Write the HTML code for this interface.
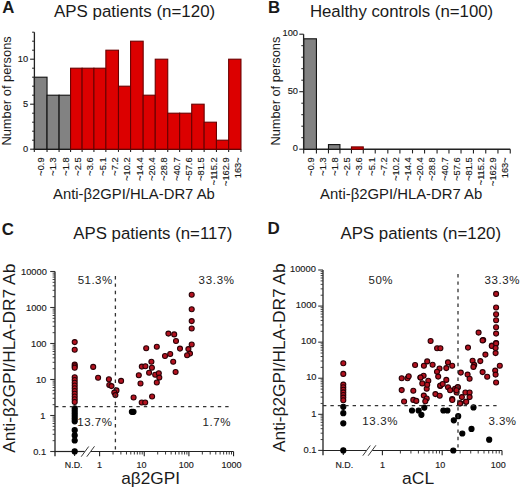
<!DOCTYPE html>
<html><head><meta charset="utf-8"><style>
html,body{margin:0;padding:0;background:#fff;width:520px;height:489px;overflow:hidden}
svg{display:block;font-family:"Liberation Sans",sans-serif}
</style></head><body>
<svg width="520" height="489" viewBox="0 0 520 489">
<rect width="520" height="489" fill="#fff"/>
<text x="2.2" y="13.4" font-size="16.8" text-anchor="start" font-weight="bold" fill="#1a1a1a" id="lA">A</text>
<text x="54" y="17.1" font-size="16.7" text-anchor="start" font-weight="normal" fill="#1a1a1a" textLength="161.2" lengthAdjust="spacingAndGlyphs" id="tA">APS patients (n=120)</text>
<line x1="33.71" y1="149.20" x2="240.96" y2="149.20" stroke="#222" stroke-width="1.4"/>
<line x1="34.31" y1="149.20" x2="34.31" y2="151.90" stroke="#222" stroke-width="1.1"/>
<line x1="47.04" y1="149.20" x2="47.04" y2="151.90" stroke="#222" stroke-width="1.1"/>
<line x1="59.09" y1="149.20" x2="59.09" y2="151.90" stroke="#222" stroke-width="1.1"/>
<line x1="70.57" y1="149.20" x2="70.57" y2="151.90" stroke="#222" stroke-width="1.1"/>
<line x1="82.11" y1="149.20" x2="82.11" y2="151.90" stroke="#222" stroke-width="1.1"/>
<line x1="93.92" y1="149.20" x2="93.92" y2="151.90" stroke="#222" stroke-width="1.1"/>
<line x1="105.87" y1="149.20" x2="105.87" y2="151.90" stroke="#222" stroke-width="1.1"/>
<line x1="118.48" y1="149.20" x2="118.48" y2="151.90" stroke="#222" stroke-width="1.1"/>
<line x1="130.58" y1="149.20" x2="130.58" y2="151.90" stroke="#222" stroke-width="1.1"/>
<line x1="143.18" y1="149.20" x2="143.18" y2="151.90" stroke="#222" stroke-width="1.1"/>
<line x1="155.23" y1="149.20" x2="155.23" y2="151.90" stroke="#222" stroke-width="1.1"/>
<line x1="167.74" y1="149.20" x2="167.74" y2="151.90" stroke="#222" stroke-width="1.1"/>
<line x1="179.64" y1="149.20" x2="179.64" y2="151.90" stroke="#222" stroke-width="1.1"/>
<line x1="191.72" y1="149.20" x2="191.72" y2="151.90" stroke="#222" stroke-width="1.1"/>
<line x1="204.14" y1="149.20" x2="204.14" y2="151.90" stroke="#222" stroke-width="1.1"/>
<line x1="216.45" y1="149.20" x2="216.45" y2="151.90" stroke="#222" stroke-width="1.1"/>
<line x1="228.65" y1="149.20" x2="228.65" y2="151.90" stroke="#222" stroke-width="1.1"/>
<line x1="240.96" y1="149.20" x2="240.96" y2="151.90" stroke="#222" stroke-width="1.1"/>
<rect x="34.31" y="77.20" width="12.73" height="72.00" fill="#828282" stroke="#111111" stroke-width="1.1"/>
<rect x="47.04" y="95.20" width="12.06" height="54.00" fill="#828282" stroke="#111111" stroke-width="1.1"/>
<rect x="59.09" y="95.20" width="11.48" height="54.00" fill="#828282" stroke="#111111" stroke-width="1.1"/>
<rect x="70.57" y="68.20" width="11.54" height="81.00" fill="#dc0000" stroke="#6a0000" stroke-width="1.1"/>
<rect x="82.11" y="68.20" width="11.81" height="81.00" fill="#dc0000" stroke="#6a0000" stroke-width="1.1"/>
<rect x="93.92" y="68.20" width="11.96" height="81.00" fill="#dc0000" stroke="#6a0000" stroke-width="1.1"/>
<rect x="105.87" y="50.20" width="12.61" height="99.00" fill="#dc0000" stroke="#6a0000" stroke-width="1.1"/>
<rect x="118.48" y="86.20" width="12.10" height="63.00" fill="#dc0000" stroke="#6a0000" stroke-width="1.1"/>
<rect x="130.58" y="41.20" width="12.60" height="108.00" fill="#dc0000" stroke="#6a0000" stroke-width="1.1"/>
<rect x="143.18" y="95.20" width="12.06" height="54.00" fill="#dc0000" stroke="#6a0000" stroke-width="1.1"/>
<rect x="155.23" y="59.20" width="12.51" height="90.00" fill="#dc0000" stroke="#6a0000" stroke-width="1.1"/>
<rect x="167.74" y="113.20" width="11.90" height="36.00" fill="#dc0000" stroke="#6a0000" stroke-width="1.1"/>
<rect x="179.64" y="113.20" width="12.08" height="36.00" fill="#dc0000" stroke="#6a0000" stroke-width="1.1"/>
<rect x="191.72" y="104.20" width="12.43" height="45.00" fill="#dc0000" stroke="#6a0000" stroke-width="1.1"/>
<rect x="204.14" y="122.20" width="12.31" height="27.00" fill="#dc0000" stroke="#6a0000" stroke-width="1.1"/>
<rect x="216.45" y="140.20" width="12.20" height="9.00" fill="#dc0000" stroke="#6a0000" stroke-width="1.1"/>
<rect x="228.65" y="59.20" width="12.31" height="90.00" fill="#dc0000" stroke="#6a0000" stroke-width="1.1"/>
<line x1="34.40" y1="32.20" x2="34.40" y2="149.90" stroke="#222" stroke-width="1.3"/>
<line x1="30.10" y1="149.20" x2="34.40" y2="149.20" stroke="#222" stroke-width="1.1"/>
<line x1="32.10" y1="140.20" x2="34.40" y2="140.20" stroke="#222" stroke-width="1.0"/>
<line x1="32.10" y1="131.20" x2="34.40" y2="131.20" stroke="#222" stroke-width="1.0"/>
<line x1="32.10" y1="122.20" x2="34.40" y2="122.20" stroke="#222" stroke-width="1.0"/>
<line x1="32.10" y1="113.20" x2="34.40" y2="113.20" stroke="#222" stroke-width="1.0"/>
<line x1="30.10" y1="104.20" x2="34.40" y2="104.20" stroke="#222" stroke-width="1.1"/>
<line x1="32.10" y1="95.20" x2="34.40" y2="95.20" stroke="#222" stroke-width="1.0"/>
<line x1="32.10" y1="86.20" x2="34.40" y2="86.20" stroke="#222" stroke-width="1.0"/>
<line x1="32.10" y1="77.20" x2="34.40" y2="77.20" stroke="#222" stroke-width="1.0"/>
<line x1="32.10" y1="68.20" x2="34.40" y2="68.20" stroke="#222" stroke-width="1.0"/>
<line x1="30.10" y1="59.20" x2="34.40" y2="59.20" stroke="#222" stroke-width="1.1"/>
<line x1="32.10" y1="50.20" x2="34.40" y2="50.20" stroke="#222" stroke-width="1.0"/>
<line x1="32.10" y1="41.20" x2="34.40" y2="41.20" stroke="#222" stroke-width="1.0"/>
<line x1="32.10" y1="32.20" x2="34.40" y2="32.20" stroke="#222" stroke-width="1.0"/>
<text x="28.199999999999996" y="152.2" font-size="9.3" text-anchor="end" font-weight="normal" fill="#1a1a1a" stroke="#1a1a1a" stroke-width="0.15" id="ht34_0">0</text>
<text x="28.199999999999996" y="107.19999999999999" font-size="9.3" text-anchor="end" font-weight="normal" fill="#1a1a1a" stroke="#1a1a1a" stroke-width="0.15" id="ht34_5">5</text>
<text x="28.199999999999996" y="62.19999999999999" font-size="9.3" text-anchor="end" font-weight="normal" fill="#1a1a1a" stroke="#1a1a1a" stroke-width="0.15" id="ht34_10">10</text>
<text x="44.099999999999994" y="157.4" font-size="9.25" text-anchor="end" font-weight="normal" fill="#1a1a1a" stroke="#1a1a1a" stroke-width="0.15" transform="rotate(-90 44.099999999999994 157.4)">~0.9</text>
<text x="56.42999999999999" y="157.4" font-size="9.25" text-anchor="end" font-weight="normal" fill="#1a1a1a" stroke="#1a1a1a" stroke-width="0.15" transform="rotate(-90 56.42999999999999 157.4)">~1.3</text>
<text x="68.75999999999999" y="157.4" font-size="9.25" text-anchor="end" font-weight="normal" fill="#1a1a1a" stroke="#1a1a1a" stroke-width="0.15" transform="rotate(-90 68.75999999999999 157.4)">~1.8</text>
<text x="81.08999999999999" y="157.4" font-size="9.25" text-anchor="end" font-weight="normal" fill="#1a1a1a" stroke="#1a1a1a" stroke-width="0.15" transform="rotate(-90 81.08999999999999 157.4)">~2.5</text>
<text x="93.42" y="157.4" font-size="9.25" text-anchor="end" font-weight="normal" fill="#1a1a1a" stroke="#1a1a1a" stroke-width="0.15" transform="rotate(-90 93.42 157.4)">~3.6</text>
<text x="105.74999999999999" y="157.4" font-size="9.25" text-anchor="end" font-weight="normal" fill="#1a1a1a" stroke="#1a1a1a" stroke-width="0.15" transform="rotate(-90 105.74999999999999 157.4)">~5.1</text>
<text x="118.08" y="157.4" font-size="9.25" text-anchor="end" font-weight="normal" fill="#1a1a1a" stroke="#1a1a1a" stroke-width="0.15" transform="rotate(-90 118.08 157.4)">~7.2</text>
<text x="130.41" y="157.4" font-size="9.25" text-anchor="end" font-weight="normal" fill="#1a1a1a" stroke="#1a1a1a" stroke-width="0.15" transform="rotate(-90 130.41 157.4)">~10.2</text>
<text x="142.74" y="157.4" font-size="9.25" text-anchor="end" font-weight="normal" fill="#1a1a1a" stroke="#1a1a1a" stroke-width="0.15" transform="rotate(-90 142.74 157.4)">~14.4</text>
<text x="155.07" y="157.4" font-size="9.25" text-anchor="end" font-weight="normal" fill="#1a1a1a" stroke="#1a1a1a" stroke-width="0.15" transform="rotate(-90 155.07 157.4)">~20.4</text>
<text x="167.4" y="157.4" font-size="9.25" text-anchor="end" font-weight="normal" fill="#1a1a1a" stroke="#1a1a1a" stroke-width="0.15" transform="rotate(-90 167.4 157.4)">~28.8</text>
<text x="179.73000000000002" y="157.4" font-size="9.25" text-anchor="end" font-weight="normal" fill="#1a1a1a" stroke="#1a1a1a" stroke-width="0.15" transform="rotate(-90 179.73000000000002 157.4)">~40.7</text>
<text x="192.06" y="157.4" font-size="9.25" text-anchor="end" font-weight="normal" fill="#1a1a1a" stroke="#1a1a1a" stroke-width="0.15" transform="rotate(-90 192.06 157.4)">~57.6</text>
<text x="204.39" y="157.4" font-size="9.25" text-anchor="end" font-weight="normal" fill="#1a1a1a" stroke="#1a1a1a" stroke-width="0.15" transform="rotate(-90 204.39 157.4)">~81.5</text>
<text x="216.72000000000003" y="157.4" font-size="9.25" text-anchor="end" font-weight="normal" fill="#1a1a1a" stroke="#1a1a1a" stroke-width="0.15" transform="rotate(-90 216.72000000000003 157.4)">~115.2</text>
<text x="229.05" y="157.4" font-size="9.25" text-anchor="end" font-weight="normal" fill="#1a1a1a" stroke="#1a1a1a" stroke-width="0.15" transform="rotate(-90 229.05 157.4)">~162.9</text>
<text x="241.38" y="157.4" font-size="9.25" text-anchor="end" font-weight="normal" fill="#1a1a1a" stroke="#1a1a1a" stroke-width="0.15" transform="rotate(-90 241.38 157.4)">163~</text>
<text x="10.8" y="145.6" font-size="12.8" text-anchor="start" font-weight="normal" fill="#1a1a1a" textLength="109.4" lengthAdjust="spacingAndGlyphs" transform="rotate(-90 10.8 145.6)" id="yl34">Number of persons</text>
<text x="53" y="198.75" font-size="14.8" text-anchor="start" font-weight="normal" fill="#1a1a1a" textLength="161.8" lengthAdjust="spacingAndGlyphs" id="xl34">Anti-β2GPI/HLA-DR7 Ab</text>
<text x="268.0" y="13.4" font-size="16.8" text-anchor="start" font-weight="bold" fill="#1a1a1a" id="lB">B</text>
<text x="309.9" y="17.1" font-size="16.7" text-anchor="start" font-weight="normal" fill="#1a1a1a" textLength="183.3" lengthAdjust="spacingAndGlyphs" id="tB">Healthy controls (n=100)</text>
<line x1="303.10" y1="149.20" x2="510.25" y2="149.20" stroke="#222" stroke-width="1.4"/>
<line x1="303.70" y1="149.20" x2="303.70" y2="153.40" stroke="#222" stroke-width="1.1"/>
<line x1="316.42" y1="149.20" x2="316.42" y2="153.40" stroke="#222" stroke-width="1.1"/>
<line x1="328.47" y1="149.20" x2="328.47" y2="153.40" stroke="#222" stroke-width="1.1"/>
<line x1="339.94" y1="149.20" x2="339.94" y2="153.40" stroke="#222" stroke-width="1.1"/>
<line x1="351.47" y1="149.20" x2="351.47" y2="153.40" stroke="#222" stroke-width="1.1"/>
<line x1="363.28" y1="149.20" x2="363.28" y2="153.40" stroke="#222" stroke-width="1.1"/>
<line x1="375.23" y1="149.20" x2="375.23" y2="153.40" stroke="#222" stroke-width="1.1"/>
<line x1="387.83" y1="149.20" x2="387.83" y2="153.40" stroke="#222" stroke-width="1.1"/>
<line x1="399.92" y1="149.20" x2="399.92" y2="153.40" stroke="#222" stroke-width="1.1"/>
<line x1="412.51" y1="149.20" x2="412.51" y2="153.40" stroke="#222" stroke-width="1.1"/>
<line x1="424.57" y1="149.20" x2="424.57" y2="153.40" stroke="#222" stroke-width="1.1"/>
<line x1="437.07" y1="149.20" x2="437.07" y2="153.40" stroke="#222" stroke-width="1.1"/>
<line x1="448.96" y1="149.20" x2="448.96" y2="153.40" stroke="#222" stroke-width="1.1"/>
<line x1="461.03" y1="149.20" x2="461.03" y2="153.40" stroke="#222" stroke-width="1.1"/>
<line x1="473.45" y1="149.20" x2="473.45" y2="153.40" stroke="#222" stroke-width="1.1"/>
<line x1="485.76" y1="149.20" x2="485.76" y2="153.40" stroke="#222" stroke-width="1.1"/>
<line x1="497.95" y1="149.20" x2="497.95" y2="153.40" stroke="#222" stroke-width="1.1"/>
<line x1="510.25" y1="149.20" x2="510.25" y2="153.40" stroke="#222" stroke-width="1.1"/>
<rect x="303.70" y="38.80" width="12.72" height="110.40" fill="#828282" stroke="#111111" stroke-width="1.1"/>
<rect x="328.47" y="144.60" width="11.47" height="4.60" fill="#828282" stroke="#111111" stroke-width="1.1"/>
<rect x="351.47" y="146.90" width="11.80" height="2.30" fill="#dc0000" stroke="#6a0000" stroke-width="1.1"/>
<line x1="303.60" y1="34.20" x2="303.60" y2="149.90" stroke="#222" stroke-width="1.3"/>
<line x1="299.30" y1="149.20" x2="303.60" y2="149.20" stroke="#222" stroke-width="1.1"/>
<line x1="301.30" y1="137.70" x2="303.60" y2="137.70" stroke="#222" stroke-width="1.0"/>
<line x1="301.30" y1="126.20" x2="303.60" y2="126.20" stroke="#222" stroke-width="1.0"/>
<line x1="301.30" y1="114.70" x2="303.60" y2="114.70" stroke="#222" stroke-width="1.0"/>
<line x1="301.30" y1="103.20" x2="303.60" y2="103.20" stroke="#222" stroke-width="1.0"/>
<line x1="299.30" y1="91.70" x2="303.60" y2="91.70" stroke="#222" stroke-width="1.1"/>
<line x1="301.30" y1="80.20" x2="303.60" y2="80.20" stroke="#222" stroke-width="1.0"/>
<line x1="301.30" y1="68.70" x2="303.60" y2="68.70" stroke="#222" stroke-width="1.0"/>
<line x1="301.30" y1="57.20" x2="303.60" y2="57.20" stroke="#222" stroke-width="1.0"/>
<line x1="301.30" y1="45.70" x2="303.60" y2="45.70" stroke="#222" stroke-width="1.0"/>
<line x1="299.30" y1="34.20" x2="303.60" y2="34.20" stroke="#222" stroke-width="1.1"/>
<text x="298.0" y="151.39999999999998" font-size="9.3" text-anchor="end" font-weight="normal" fill="#1a1a1a" stroke="#1a1a1a" stroke-width="0.15" id="ht303_0">0</text>
<text x="298.0" y="93.89999999999999" font-size="9.3" text-anchor="end" font-weight="normal" fill="#1a1a1a" stroke="#1a1a1a" stroke-width="0.15" id="ht303_50">50</text>
<text x="298.0" y="36.400000000000006" font-size="9.3" text-anchor="end" font-weight="normal" fill="#1a1a1a" stroke="#1a1a1a" stroke-width="0.15" id="ht303_100">100</text>
<text x="313.90000000000003" y="157.4" font-size="9.25" text-anchor="end" font-weight="normal" fill="#1a1a1a" stroke="#1a1a1a" stroke-width="0.15" transform="rotate(-90 313.90000000000003 157.4)">~0.9</text>
<text x="326.05" y="157.4" font-size="9.25" text-anchor="end" font-weight="normal" fill="#1a1a1a" stroke="#1a1a1a" stroke-width="0.15" transform="rotate(-90 326.05 157.4)">~1.3</text>
<text x="338.20000000000005" y="157.4" font-size="9.25" text-anchor="end" font-weight="normal" fill="#1a1a1a" stroke="#1a1a1a" stroke-width="0.15" transform="rotate(-90 338.20000000000005 157.4)">~1.8</text>
<text x="350.35" y="157.4" font-size="9.25" text-anchor="end" font-weight="normal" fill="#1a1a1a" stroke="#1a1a1a" stroke-width="0.15" transform="rotate(-90 350.35 157.4)">~2.5</text>
<text x="362.50000000000006" y="157.4" font-size="9.25" text-anchor="end" font-weight="normal" fill="#1a1a1a" stroke="#1a1a1a" stroke-width="0.15" transform="rotate(-90 362.50000000000006 157.4)">~3.6</text>
<text x="374.65000000000003" y="157.4" font-size="9.25" text-anchor="end" font-weight="normal" fill="#1a1a1a" stroke="#1a1a1a" stroke-width="0.15" transform="rotate(-90 374.65000000000003 157.4)">~5.1</text>
<text x="386.8" y="157.4" font-size="9.25" text-anchor="end" font-weight="normal" fill="#1a1a1a" stroke="#1a1a1a" stroke-width="0.15" transform="rotate(-90 386.8 157.4)">~7.2</text>
<text x="398.95000000000005" y="157.4" font-size="9.25" text-anchor="end" font-weight="normal" fill="#1a1a1a" stroke="#1a1a1a" stroke-width="0.15" transform="rotate(-90 398.95000000000005 157.4)">~10.2</text>
<text x="411.1" y="157.4" font-size="9.25" text-anchor="end" font-weight="normal" fill="#1a1a1a" stroke="#1a1a1a" stroke-width="0.15" transform="rotate(-90 411.1 157.4)">~14.4</text>
<text x="423.25000000000006" y="157.4" font-size="9.25" text-anchor="end" font-weight="normal" fill="#1a1a1a" stroke="#1a1a1a" stroke-width="0.15" transform="rotate(-90 423.25000000000006 157.4)">~20.4</text>
<text x="435.40000000000003" y="157.4" font-size="9.25" text-anchor="end" font-weight="normal" fill="#1a1a1a" stroke="#1a1a1a" stroke-width="0.15" transform="rotate(-90 435.40000000000003 157.4)">~28.8</text>
<text x="447.55" y="157.4" font-size="9.25" text-anchor="end" font-weight="normal" fill="#1a1a1a" stroke="#1a1a1a" stroke-width="0.15" transform="rotate(-90 447.55 157.4)">~40.7</text>
<text x="459.70000000000005" y="157.4" font-size="9.25" text-anchor="end" font-weight="normal" fill="#1a1a1a" stroke="#1a1a1a" stroke-width="0.15" transform="rotate(-90 459.70000000000005 157.4)">~57.6</text>
<text x="471.8500000000001" y="157.4" font-size="9.25" text-anchor="end" font-weight="normal" fill="#1a1a1a" stroke="#1a1a1a" stroke-width="0.15" transform="rotate(-90 471.8500000000001 157.4)">~81.5</text>
<text x="484.00000000000006" y="157.4" font-size="9.25" text-anchor="end" font-weight="normal" fill="#1a1a1a" stroke="#1a1a1a" stroke-width="0.15" transform="rotate(-90 484.00000000000006 157.4)">~115.2</text>
<text x="496.15000000000003" y="157.4" font-size="9.25" text-anchor="end" font-weight="normal" fill="#1a1a1a" stroke="#1a1a1a" stroke-width="0.15" transform="rotate(-90 496.15000000000003 157.4)">~162.9</text>
<text x="508.3" y="157.4" font-size="9.25" text-anchor="end" font-weight="normal" fill="#1a1a1a" stroke="#1a1a1a" stroke-width="0.15" transform="rotate(-90 508.3 157.4)">163~</text>
<text x="280.3" y="145.6" font-size="12.8" text-anchor="start" font-weight="normal" fill="#1a1a1a" textLength="108.9" lengthAdjust="spacingAndGlyphs" transform="rotate(-90 280.3 145.6)" id="yl303">Number of persons</text>
<text x="320.1" y="198.75" font-size="14.8" text-anchor="start" font-weight="normal" fill="#1a1a1a" textLength="162.2" lengthAdjust="spacingAndGlyphs" id="xl303">Anti-β2GPI/HLA-DR7 Ab</text>
<text x="1.8" y="234.6" font-size="16.8" text-anchor="start" font-weight="bold" fill="#1a1a1a" id="lC">C</text>
<text x="73.3" y="238.7" font-size="16.7" text-anchor="start" font-weight="normal" fill="#1a1a1a" textLength="159" lengthAdjust="spacingAndGlyphs" id="tC">APS patients (n=117)</text>
<line x1="55.00" y1="271.50" x2="55.00" y2="456.20" stroke="#333" stroke-width="1.4"/>
<line x1="52.60" y1="440.66" x2="55.00" y2="440.66" stroke="#333" stroke-width="0.9"/>
<line x1="52.60" y1="434.32" x2="55.00" y2="434.32" stroke="#333" stroke-width="0.9"/>
<line x1="52.60" y1="429.83" x2="55.00" y2="429.83" stroke="#333" stroke-width="0.9"/>
<line x1="52.60" y1="426.34" x2="55.00" y2="426.34" stroke="#333" stroke-width="0.9"/>
<line x1="52.60" y1="423.49" x2="55.00" y2="423.49" stroke="#333" stroke-width="0.9"/>
<line x1="52.60" y1="421.08" x2="55.00" y2="421.08" stroke="#333" stroke-width="0.9"/>
<line x1="52.60" y1="418.99" x2="55.00" y2="418.99" stroke="#333" stroke-width="0.9"/>
<line x1="52.60" y1="417.15" x2="55.00" y2="417.15" stroke="#333" stroke-width="0.9"/>
<line x1="52.60" y1="404.66" x2="55.00" y2="404.66" stroke="#333" stroke-width="0.9"/>
<line x1="52.60" y1="398.32" x2="55.00" y2="398.32" stroke="#333" stroke-width="0.9"/>
<line x1="52.60" y1="393.83" x2="55.00" y2="393.83" stroke="#333" stroke-width="0.9"/>
<line x1="52.60" y1="390.34" x2="55.00" y2="390.34" stroke="#333" stroke-width="0.9"/>
<line x1="52.60" y1="387.49" x2="55.00" y2="387.49" stroke="#333" stroke-width="0.9"/>
<line x1="52.60" y1="385.08" x2="55.00" y2="385.08" stroke="#333" stroke-width="0.9"/>
<line x1="52.60" y1="382.99" x2="55.00" y2="382.99" stroke="#333" stroke-width="0.9"/>
<line x1="52.60" y1="381.15" x2="55.00" y2="381.15" stroke="#333" stroke-width="0.9"/>
<line x1="52.60" y1="368.66" x2="55.00" y2="368.66" stroke="#333" stroke-width="0.9"/>
<line x1="52.60" y1="362.32" x2="55.00" y2="362.32" stroke="#333" stroke-width="0.9"/>
<line x1="52.60" y1="357.83" x2="55.00" y2="357.83" stroke="#333" stroke-width="0.9"/>
<line x1="52.60" y1="354.34" x2="55.00" y2="354.34" stroke="#333" stroke-width="0.9"/>
<line x1="52.60" y1="351.49" x2="55.00" y2="351.49" stroke="#333" stroke-width="0.9"/>
<line x1="52.60" y1="349.08" x2="55.00" y2="349.08" stroke="#333" stroke-width="0.9"/>
<line x1="52.60" y1="346.99" x2="55.00" y2="346.99" stroke="#333" stroke-width="0.9"/>
<line x1="52.60" y1="345.15" x2="55.00" y2="345.15" stroke="#333" stroke-width="0.9"/>
<line x1="52.60" y1="332.66" x2="55.00" y2="332.66" stroke="#333" stroke-width="0.9"/>
<line x1="52.60" y1="326.32" x2="55.00" y2="326.32" stroke="#333" stroke-width="0.9"/>
<line x1="52.60" y1="321.83" x2="55.00" y2="321.83" stroke="#333" stroke-width="0.9"/>
<line x1="52.60" y1="318.34" x2="55.00" y2="318.34" stroke="#333" stroke-width="0.9"/>
<line x1="52.60" y1="315.49" x2="55.00" y2="315.49" stroke="#333" stroke-width="0.9"/>
<line x1="52.60" y1="313.08" x2="55.00" y2="313.08" stroke="#333" stroke-width="0.9"/>
<line x1="52.60" y1="310.99" x2="55.00" y2="310.99" stroke="#333" stroke-width="0.9"/>
<line x1="52.60" y1="309.15" x2="55.00" y2="309.15" stroke="#333" stroke-width="0.9"/>
<line x1="52.60" y1="296.66" x2="55.00" y2="296.66" stroke="#333" stroke-width="0.9"/>
<line x1="52.60" y1="290.32" x2="55.00" y2="290.32" stroke="#333" stroke-width="0.9"/>
<line x1="52.60" y1="285.83" x2="55.00" y2="285.83" stroke="#333" stroke-width="0.9"/>
<line x1="52.60" y1="282.34" x2="55.00" y2="282.34" stroke="#333" stroke-width="0.9"/>
<line x1="52.60" y1="279.49" x2="55.00" y2="279.49" stroke="#333" stroke-width="0.9"/>
<line x1="52.60" y1="277.08" x2="55.00" y2="277.08" stroke="#333" stroke-width="0.9"/>
<line x1="52.60" y1="274.99" x2="55.00" y2="274.99" stroke="#333" stroke-width="0.9"/>
<line x1="52.60" y1="273.15" x2="55.00" y2="273.15" stroke="#333" stroke-width="0.9"/>
<line x1="50.20" y1="451.50" x2="55.00" y2="451.50" stroke="#333" stroke-width="1.1"/>
<text x="46.1" y="454.7" font-size="9.3" text-anchor="end" font-weight="normal" fill="#1a1a1a" stroke="#1a1a1a" stroke-width="0.15" id="yt55_0">0.1</text>
<line x1="50.20" y1="415.50" x2="55.00" y2="415.50" stroke="#333" stroke-width="1.1"/>
<text x="45.5" y="418.7" font-size="9.3" text-anchor="end" font-weight="normal" fill="#1a1a1a" stroke="#1a1a1a" stroke-width="0.15" id="yt55_1">1</text>
<line x1="50.20" y1="379.50" x2="55.00" y2="379.50" stroke="#333" stroke-width="1.1"/>
<text x="46.300000000000004" y="382.7" font-size="9.3" text-anchor="end" font-weight="normal" fill="#1a1a1a" stroke="#1a1a1a" stroke-width="0.15" id="yt55_2">10</text>
<line x1="50.20" y1="343.50" x2="55.00" y2="343.50" stroke="#333" stroke-width="1.1"/>
<text x="46.5" y="346.7" font-size="9.3" text-anchor="end" font-weight="normal" fill="#1a1a1a" stroke="#1a1a1a" stroke-width="0.15" id="yt55_3">100</text>
<line x1="50.20" y1="307.50" x2="55.00" y2="307.50" stroke="#333" stroke-width="1.1"/>
<text x="46.7" y="310.7" font-size="9.3" text-anchor="end" font-weight="normal" fill="#1a1a1a" stroke="#1a1a1a" stroke-width="0.15" id="yt55_4">1000</text>
<line x1="50.20" y1="271.50" x2="55.00" y2="271.50" stroke="#333" stroke-width="1.1"/>
<text x="46.900000000000006" y="274.7" font-size="9.3" text-anchor="end" font-weight="normal" fill="#1a1a1a" stroke="#1a1a1a" stroke-width="0.15" id="yt55_5">10000</text>
<line x1="54.40" y1="451.50" x2="84.60" y2="451.50" stroke="#222" stroke-width="1.2"/>
<line x1="90.90" y1="451.50" x2="233.55" y2="451.50" stroke="#222" stroke-width="1.2"/>
<line x1="81.20" y1="456.70" x2="88.70" y2="446.50" stroke="#222" stroke-width="0.9"/>
<line x1="86.80" y1="456.70" x2="94.50" y2="446.30" stroke="#222" stroke-width="0.9"/>
<line x1="74.60" y1="451.50" x2="74.60" y2="456.00" stroke="#222" stroke-width="1.1"/>
<text x="73.7" y="467.6" font-size="8.9" text-anchor="middle" font-weight="normal" fill="#1a1a1a" stroke="#1a1a1a" stroke-width="0.15" id="nd55">N.D.</text>
<line x1="99.60" y1="451.50" x2="99.60" y2="456.20" stroke="#222" stroke-width="1.1"/>
<text x="99.6" y="467.8" font-size="9.0" text-anchor="middle" font-weight="normal" fill="#1a1a1a" stroke="#1a1a1a" stroke-width="0.15" id="xt55_0">1</text>
<line x1="113.04" y1="451.50" x2="113.04" y2="454.50" stroke="#222" stroke-width="0.9"/>
<line x1="120.90" y1="451.50" x2="120.90" y2="454.50" stroke="#222" stroke-width="0.9"/>
<line x1="126.48" y1="451.50" x2="126.48" y2="454.50" stroke="#222" stroke-width="0.9"/>
<line x1="130.81" y1="451.50" x2="130.81" y2="454.50" stroke="#222" stroke-width="0.9"/>
<line x1="134.34" y1="451.50" x2="134.34" y2="454.50" stroke="#222" stroke-width="0.9"/>
<line x1="137.33" y1="451.50" x2="137.33" y2="454.50" stroke="#222" stroke-width="0.9"/>
<line x1="139.92" y1="451.50" x2="139.92" y2="454.50" stroke="#222" stroke-width="0.9"/>
<line x1="142.21" y1="451.50" x2="142.21" y2="454.50" stroke="#222" stroke-width="0.9"/>
<line x1="144.25" y1="451.50" x2="144.25" y2="456.20" stroke="#222" stroke-width="1.1"/>
<text x="141.55" y="467.8" font-size="9.0" text-anchor="middle" font-weight="normal" fill="#1a1a1a" stroke="#1a1a1a" stroke-width="0.15" id="xt55_1">10</text>
<line x1="157.69" y1="451.50" x2="157.69" y2="454.50" stroke="#222" stroke-width="0.9"/>
<line x1="165.55" y1="451.50" x2="165.55" y2="454.50" stroke="#222" stroke-width="0.9"/>
<line x1="171.13" y1="451.50" x2="171.13" y2="454.50" stroke="#222" stroke-width="0.9"/>
<line x1="175.46" y1="451.50" x2="175.46" y2="454.50" stroke="#222" stroke-width="0.9"/>
<line x1="178.99" y1="451.50" x2="178.99" y2="454.50" stroke="#222" stroke-width="0.9"/>
<line x1="181.98" y1="451.50" x2="181.98" y2="454.50" stroke="#222" stroke-width="0.9"/>
<line x1="184.57" y1="451.50" x2="184.57" y2="454.50" stroke="#222" stroke-width="0.9"/>
<line x1="186.86" y1="451.50" x2="186.86" y2="454.50" stroke="#222" stroke-width="0.9"/>
<line x1="188.90" y1="451.50" x2="188.90" y2="456.20" stroke="#222" stroke-width="1.1"/>
<text x="186.2" y="467.8" font-size="9.0" text-anchor="middle" font-weight="normal" fill="#1a1a1a" stroke="#1a1a1a" stroke-width="0.15" id="xt55_2">100</text>
<line x1="202.34" y1="451.50" x2="202.34" y2="454.50" stroke="#222" stroke-width="0.9"/>
<line x1="210.20" y1="451.50" x2="210.20" y2="454.50" stroke="#222" stroke-width="0.9"/>
<line x1="215.78" y1="451.50" x2="215.78" y2="454.50" stroke="#222" stroke-width="0.9"/>
<line x1="220.11" y1="451.50" x2="220.11" y2="454.50" stroke="#222" stroke-width="0.9"/>
<line x1="223.64" y1="451.50" x2="223.64" y2="454.50" stroke="#222" stroke-width="0.9"/>
<line x1="226.63" y1="451.50" x2="226.63" y2="454.50" stroke="#222" stroke-width="0.9"/>
<line x1="229.22" y1="451.50" x2="229.22" y2="454.50" stroke="#222" stroke-width="0.9"/>
<line x1="231.51" y1="451.50" x2="231.51" y2="454.50" stroke="#222" stroke-width="0.9"/>
<line x1="233.55" y1="451.50" x2="233.55" y2="456.20" stroke="#222" stroke-width="1.1"/>
<text x="231.54999999999998" y="467.8" font-size="9.0" text-anchor="middle" font-weight="normal" fill="#1a1a1a" stroke="#1a1a1a" stroke-width="0.15" id="xt55_3">1000</text>
<circle cx="74.7" cy="342.1" r="2.5" fill="#b3121f" stroke="#2a0006" stroke-width="1.1"/>
<circle cx="74.7" cy="349.7" r="2.5" fill="#b3121f" stroke="#2a0006" stroke-width="1.1"/>
<circle cx="74.7" cy="364.6" r="2.5" fill="#b3121f" stroke="#2a0006" stroke-width="1.1"/>
<circle cx="74.7" cy="366.2" r="2.5" fill="#b3121f" stroke="#2a0006" stroke-width="1.1"/>
<circle cx="74.7" cy="367.8" r="2.5" fill="#b3121f" stroke="#2a0006" stroke-width="1.1"/>
<circle cx="74.7" cy="377.3" r="2.5" fill="#b3121f" stroke="#2a0006" stroke-width="1.1"/>
<circle cx="74.7" cy="380.05" r="2.5" fill="#b3121f" stroke="#2a0006" stroke-width="1.1"/>
<circle cx="74.7" cy="382.8" r="2.5" fill="#b3121f" stroke="#2a0006" stroke-width="1.1"/>
<circle cx="74.7" cy="385.55" r="2.5" fill="#b3121f" stroke="#2a0006" stroke-width="1.1"/>
<circle cx="74.7" cy="388.3" r="2.5" fill="#b3121f" stroke="#2a0006" stroke-width="1.1"/>
<circle cx="74.7" cy="391.05" r="2.5" fill="#b3121f" stroke="#2a0006" stroke-width="1.1"/>
<circle cx="74.7" cy="393.8" r="2.5" fill="#b3121f" stroke="#2a0006" stroke-width="1.1"/>
<circle cx="74.7" cy="396.55" r="2.5" fill="#b3121f" stroke="#2a0006" stroke-width="1.1"/>
<circle cx="74.7" cy="399.3" r="2.5" fill="#b3121f" stroke="#2a0006" stroke-width="1.1"/>
<circle cx="74.7" cy="402.05" r="2.5" fill="#b3121f" stroke="#2a0006" stroke-width="1.1"/>
<circle cx="93.2" cy="366.9" r="2.5" fill="#b3121f" stroke="#2a0006" stroke-width="1.1"/>
<circle cx="98.1" cy="377.8" r="2.5" fill="#b3121f" stroke="#2a0006" stroke-width="1.1"/>
<circle cx="108.9" cy="379.3" r="2.5" fill="#b3121f" stroke="#2a0006" stroke-width="1.1"/>
<circle cx="109.3" cy="385" r="2.5" fill="#b3121f" stroke="#2a0006" stroke-width="1.1"/>
<circle cx="111.5" cy="386.1" r="2.5" fill="#b3121f" stroke="#2a0006" stroke-width="1.1"/>
<circle cx="121.1" cy="380.9" r="2.5" fill="#b3121f" stroke="#2a0006" stroke-width="1.1"/>
<circle cx="116.5" cy="390.4" r="2.5" fill="#b3121f" stroke="#2a0006" stroke-width="1.1"/>
<circle cx="114.3" cy="392.6" r="2.5" fill="#b3121f" stroke="#2a0006" stroke-width="1.1"/>
<circle cx="115.4" cy="395.1" r="2.5" fill="#b3121f" stroke="#2a0006" stroke-width="1.1"/>
<circle cx="191.7" cy="294.7" r="2.5" fill="#b3121f" stroke="#2a0006" stroke-width="1.1"/>
<circle cx="191.7" cy="309.2" r="2.5" fill="#b3121f" stroke="#2a0006" stroke-width="1.1"/>
<circle cx="191.7" cy="321.1" r="2.5" fill="#b3121f" stroke="#2a0006" stroke-width="1.1"/>
<circle cx="191.7" cy="328.5" r="2.5" fill="#b3121f" stroke="#2a0006" stroke-width="1.1"/>
<circle cx="168.4" cy="333.6" r="2.5" fill="#b3121f" stroke="#2a0006" stroke-width="1.1"/>
<circle cx="174.2" cy="334.4" r="2.5" fill="#b3121f" stroke="#2a0006" stroke-width="1.1"/>
<circle cx="176" cy="341" r="2.5" fill="#b3121f" stroke="#2a0006" stroke-width="1.1"/>
<circle cx="146.2" cy="348.2" r="2.5" fill="#b3121f" stroke="#2a0006" stroke-width="1.1"/>
<circle cx="156.8" cy="346.7" r="2.5" fill="#b3121f" stroke="#2a0006" stroke-width="1.1"/>
<circle cx="191.7" cy="344.5" r="2.5" fill="#b3121f" stroke="#2a0006" stroke-width="1.1"/>
<circle cx="180" cy="348.6" r="2.5" fill="#b3121f" stroke="#2a0006" stroke-width="1.1"/>
<circle cx="188.4" cy="349.1" r="2.5" fill="#b3121f" stroke="#2a0006" stroke-width="1.1"/>
<circle cx="190" cy="353.6" r="2.5" fill="#b3121f" stroke="#2a0006" stroke-width="1.1"/>
<circle cx="187.1" cy="355.2" r="2.5" fill="#b3121f" stroke="#2a0006" stroke-width="1.1"/>
<circle cx="165" cy="356" r="2.5" fill="#b3121f" stroke="#2a0006" stroke-width="1.1"/>
<circle cx="170.2" cy="354" r="2.5" fill="#b3121f" stroke="#2a0006" stroke-width="1.1"/>
<circle cx="151.4" cy="361.7" r="2.5" fill="#b3121f" stroke="#2a0006" stroke-width="1.1"/>
<circle cx="173.2" cy="361.7" r="2.5" fill="#b3121f" stroke="#2a0006" stroke-width="1.1"/>
<circle cx="141.8" cy="366.6" r="2.5" fill="#b3121f" stroke="#2a0006" stroke-width="1.1"/>
<circle cx="145.4" cy="366.3" r="2.5" fill="#b3121f" stroke="#2a0006" stroke-width="1.1"/>
<circle cx="151.9" cy="367.8" r="2.5" fill="#b3121f" stroke="#2a0006" stroke-width="1.1"/>
<circle cx="175.6" cy="372" r="2.5" fill="#b3121f" stroke="#2a0006" stroke-width="1.1"/>
<circle cx="149.1" cy="372.7" r="2.5" fill="#b3121f" stroke="#2a0006" stroke-width="1.1"/>
<circle cx="155.2" cy="374.8" r="2.5" fill="#b3121f" stroke="#2a0006" stroke-width="1.1"/>
<circle cx="158.8" cy="373.2" r="2.5" fill="#b3121f" stroke="#2a0006" stroke-width="1.1"/>
<circle cx="159.3" cy="377.6" r="2.5" fill="#b3121f" stroke="#2a0006" stroke-width="1.1"/>
<circle cx="138.8" cy="375.3" r="2.5" fill="#b3121f" stroke="#2a0006" stroke-width="1.1"/>
<circle cx="140.5" cy="383.5" r="2.5" fill="#b3121f" stroke="#2a0006" stroke-width="1.1"/>
<circle cx="156.8" cy="382.5" r="2.5" fill="#b3121f" stroke="#2a0006" stroke-width="1.1"/>
<circle cx="133.6" cy="397.5" r="2.5" fill="#b3121f" stroke="#2a0006" stroke-width="1.1"/>
<circle cx="152.1" cy="396.5" r="2.5" fill="#b3121f" stroke="#2a0006" stroke-width="1.1"/>
<circle cx="141.7" cy="402.5" r="2.5" fill="#b3121f" stroke="#2a0006" stroke-width="1.1"/>
<circle cx="145.2" cy="402.5" r="2.5" fill="#b3121f" stroke="#2a0006" stroke-width="1.1"/>
<circle cx="74.7" cy="408.3" r="2.55" fill="#000" stroke="#000" stroke-width="1.1"/>
<circle cx="74.7" cy="410.90000000000003" r="2.55" fill="#000" stroke="#000" stroke-width="1.1"/>
<circle cx="74.7" cy="413.5" r="2.55" fill="#000" stroke="#000" stroke-width="1.1"/>
<circle cx="74.7" cy="416.1" r="2.55" fill="#000" stroke="#000" stroke-width="1.1"/>
<circle cx="74.7" cy="418.7" r="2.55" fill="#000" stroke="#000" stroke-width="1.1"/>
<circle cx="74.7" cy="421.3" r="2.55" fill="#000" stroke="#000" stroke-width="1.1"/>
<circle cx="74.7" cy="430.2" r="2.55" fill="#000" stroke="#000" stroke-width="1.1"/>
<circle cx="74.7" cy="435.4" r="2.55" fill="#000" stroke="#000" stroke-width="1.1"/>
<circle cx="74.7" cy="440.5" r="2.55" fill="#000" stroke="#000" stroke-width="1.1"/>
<circle cx="74.7" cy="451.4" r="2.55" fill="#000" stroke="#000" stroke-width="1.1"/>
<circle cx="131.9" cy="411.8" r="2.55" fill="#000" stroke="#000" stroke-width="1.1"/>
<circle cx="133.5" cy="411.8" r="2.55" fill="#000" stroke="#000" stroke-width="1.1"/>
<line x1="115.40" y1="276.00" x2="115.40" y2="451.50" stroke="#333" stroke-width="1.3" stroke-dasharray="3.4 4"/>
<line x1="55.00" y1="406.60" x2="231.00" y2="406.60" stroke="#333" stroke-width="1.3" stroke-dasharray="3.4 4"/>
<text x="77.7" y="283.7" font-size="11.5" text-anchor="start" font-weight="normal" fill="#222" textLength="34.5" lengthAdjust="spacing" id="p1">51.3%</text>
<text x="198.6" y="283.6" font-size="11.5" text-anchor="start" font-weight="normal" fill="#222" textLength="35.5" lengthAdjust="spacing" id="p2">33.3%</text>
<text x="77.3" y="425.6" font-size="11.5" text-anchor="start" font-weight="normal" fill="#222" textLength="34.6" lengthAdjust="spacing" id="p3">13.7%</text>
<text x="202.5" y="425.6" font-size="11.5" text-anchor="start" font-weight="normal" fill="#222" textLength="28" lengthAdjust="spacing" id="p4">1.7%</text>
<text x="14.7" y="452.7" font-size="16.7" text-anchor="start" font-weight="normal" fill="#1a1a1a" textLength="189" lengthAdjust="spacingAndGlyphs" transform="rotate(-90 14.7 452.7)" id="yC">Anti-β2GPI/HLA-DR7 Ab</text>
<text x="121.2" y="483.7" font-size="16.6" text-anchor="start" font-weight="normal" fill="#1a1a1a" textLength="58.8" lengthAdjust="spacingAndGlyphs" id="xC">aβ2GPI</text>
<text x="267.5" y="234.3" font-size="17.0" text-anchor="start" font-weight="bold" fill="#1a1a1a" id="lD">D</text>
<text x="340.4" y="238.7" font-size="16.7" text-anchor="start" font-weight="normal" fill="#1a1a1a" textLength="160.6" lengthAdjust="spacingAndGlyphs" id="tD">APS patients (n=120)</text>
<line x1="323.00" y1="270.00" x2="323.00" y2="455.20" stroke="#333" stroke-width="1.4"/>
<line x1="320.60" y1="439.54" x2="323.00" y2="439.54" stroke="#333" stroke-width="0.9"/>
<line x1="320.60" y1="433.19" x2="323.00" y2="433.19" stroke="#333" stroke-width="0.9"/>
<line x1="320.60" y1="428.68" x2="323.00" y2="428.68" stroke="#333" stroke-width="0.9"/>
<line x1="320.60" y1="425.18" x2="323.00" y2="425.18" stroke="#333" stroke-width="0.9"/>
<line x1="320.60" y1="422.32" x2="323.00" y2="422.32" stroke="#333" stroke-width="0.9"/>
<line x1="320.60" y1="419.91" x2="323.00" y2="419.91" stroke="#333" stroke-width="0.9"/>
<line x1="320.60" y1="417.82" x2="323.00" y2="417.82" stroke="#333" stroke-width="0.9"/>
<line x1="320.60" y1="415.97" x2="323.00" y2="415.97" stroke="#333" stroke-width="0.9"/>
<line x1="320.60" y1="403.46" x2="323.00" y2="403.46" stroke="#333" stroke-width="0.9"/>
<line x1="320.60" y1="397.11" x2="323.00" y2="397.11" stroke="#333" stroke-width="0.9"/>
<line x1="320.60" y1="392.60" x2="323.00" y2="392.60" stroke="#333" stroke-width="0.9"/>
<line x1="320.60" y1="389.10" x2="323.00" y2="389.10" stroke="#333" stroke-width="0.9"/>
<line x1="320.60" y1="386.24" x2="323.00" y2="386.24" stroke="#333" stroke-width="0.9"/>
<line x1="320.60" y1="383.83" x2="323.00" y2="383.83" stroke="#333" stroke-width="0.9"/>
<line x1="320.60" y1="381.74" x2="323.00" y2="381.74" stroke="#333" stroke-width="0.9"/>
<line x1="320.60" y1="379.89" x2="323.00" y2="379.89" stroke="#333" stroke-width="0.9"/>
<line x1="320.60" y1="367.38" x2="323.00" y2="367.38" stroke="#333" stroke-width="0.9"/>
<line x1="320.60" y1="361.03" x2="323.00" y2="361.03" stroke="#333" stroke-width="0.9"/>
<line x1="320.60" y1="356.52" x2="323.00" y2="356.52" stroke="#333" stroke-width="0.9"/>
<line x1="320.60" y1="353.02" x2="323.00" y2="353.02" stroke="#333" stroke-width="0.9"/>
<line x1="320.60" y1="350.16" x2="323.00" y2="350.16" stroke="#333" stroke-width="0.9"/>
<line x1="320.60" y1="347.75" x2="323.00" y2="347.75" stroke="#333" stroke-width="0.9"/>
<line x1="320.60" y1="345.66" x2="323.00" y2="345.66" stroke="#333" stroke-width="0.9"/>
<line x1="320.60" y1="343.81" x2="323.00" y2="343.81" stroke="#333" stroke-width="0.9"/>
<line x1="320.60" y1="331.30" x2="323.00" y2="331.30" stroke="#333" stroke-width="0.9"/>
<line x1="320.60" y1="324.95" x2="323.00" y2="324.95" stroke="#333" stroke-width="0.9"/>
<line x1="320.60" y1="320.44" x2="323.00" y2="320.44" stroke="#333" stroke-width="0.9"/>
<line x1="320.60" y1="316.94" x2="323.00" y2="316.94" stroke="#333" stroke-width="0.9"/>
<line x1="320.60" y1="314.08" x2="323.00" y2="314.08" stroke="#333" stroke-width="0.9"/>
<line x1="320.60" y1="311.67" x2="323.00" y2="311.67" stroke="#333" stroke-width="0.9"/>
<line x1="320.60" y1="309.58" x2="323.00" y2="309.58" stroke="#333" stroke-width="0.9"/>
<line x1="320.60" y1="307.73" x2="323.00" y2="307.73" stroke="#333" stroke-width="0.9"/>
<line x1="320.60" y1="295.22" x2="323.00" y2="295.22" stroke="#333" stroke-width="0.9"/>
<line x1="320.60" y1="288.87" x2="323.00" y2="288.87" stroke="#333" stroke-width="0.9"/>
<line x1="320.60" y1="284.36" x2="323.00" y2="284.36" stroke="#333" stroke-width="0.9"/>
<line x1="320.60" y1="280.86" x2="323.00" y2="280.86" stroke="#333" stroke-width="0.9"/>
<line x1="320.60" y1="278.00" x2="323.00" y2="278.00" stroke="#333" stroke-width="0.9"/>
<line x1="320.60" y1="275.59" x2="323.00" y2="275.59" stroke="#333" stroke-width="0.9"/>
<line x1="320.60" y1="273.50" x2="323.00" y2="273.50" stroke="#333" stroke-width="0.9"/>
<line x1="320.60" y1="271.65" x2="323.00" y2="271.65" stroke="#333" stroke-width="0.9"/>
<line x1="318.20" y1="450.40" x2="323.00" y2="450.40" stroke="#333" stroke-width="1.1"/>
<text x="316.5" y="452.59999999999997" font-size="9.3" text-anchor="end" font-weight="normal" fill="#1a1a1a" stroke="#1a1a1a" stroke-width="0.15" id="yt323_0">0.1</text>
<line x1="318.20" y1="414.32" x2="323.00" y2="414.32" stroke="#333" stroke-width="1.1"/>
<text x="316.5" y="416.52" font-size="9.3" text-anchor="end" font-weight="normal" fill="#1a1a1a" stroke="#1a1a1a" stroke-width="0.15" id="yt323_1">1</text>
<line x1="318.20" y1="378.24" x2="323.00" y2="378.24" stroke="#333" stroke-width="1.1"/>
<text x="316.5" y="380.44" font-size="9.3" text-anchor="end" font-weight="normal" fill="#1a1a1a" stroke="#1a1a1a" stroke-width="0.15" id="yt323_2">10</text>
<line x1="318.20" y1="342.16" x2="323.00" y2="342.16" stroke="#333" stroke-width="1.1"/>
<text x="316.5" y="344.35999999999996" font-size="9.3" text-anchor="end" font-weight="normal" fill="#1a1a1a" stroke="#1a1a1a" stroke-width="0.15" id="yt323_3">100</text>
<line x1="318.20" y1="306.08" x2="323.00" y2="306.08" stroke="#333" stroke-width="1.1"/>
<text x="316.5" y="308.28" font-size="9.3" text-anchor="end" font-weight="normal" fill="#1a1a1a" stroke="#1a1a1a" stroke-width="0.15" id="yt323_4">1000</text>
<line x1="318.20" y1="270.00" x2="323.00" y2="270.00" stroke="#333" stroke-width="1.1"/>
<text x="315.9" y="272.2" font-size="9.3" text-anchor="end" font-weight="normal" fill="#1a1a1a" stroke="#1a1a1a" stroke-width="0.15" id="yt323_5">10000</text>
<line x1="322.40" y1="450.50" x2="366.20" y2="450.50" stroke="#222" stroke-width="1.2"/>
<line x1="372.30" y1="450.50" x2="502.00" y2="450.50" stroke="#222" stroke-width="1.2"/>
<line x1="362.80" y1="455.70" x2="370.30" y2="445.50" stroke="#222" stroke-width="0.9"/>
<line x1="368.20" y1="455.70" x2="375.90" y2="445.30" stroke="#222" stroke-width="0.9"/>
<line x1="343.30" y1="450.50" x2="343.30" y2="455.00" stroke="#222" stroke-width="1.1"/>
<text x="344.3" y="467.6" font-size="8.9" text-anchor="middle" font-weight="normal" fill="#1a1a1a" stroke="#1a1a1a" stroke-width="0.15" id="nd323">N.D.</text>
<line x1="382.40" y1="450.50" x2="382.40" y2="455.20" stroke="#222" stroke-width="1.1"/>
<text x="382.4" y="467.8" font-size="9.0" text-anchor="middle" font-weight="normal" fill="#1a1a1a" stroke="#1a1a1a" stroke-width="0.15" id="xt323_0">1</text>
<line x1="400.40" y1="450.50" x2="400.40" y2="453.50" stroke="#222" stroke-width="0.9"/>
<line x1="410.93" y1="450.50" x2="410.93" y2="453.50" stroke="#222" stroke-width="0.9"/>
<line x1="418.40" y1="450.50" x2="418.40" y2="453.50" stroke="#222" stroke-width="0.9"/>
<line x1="424.20" y1="450.50" x2="424.20" y2="453.50" stroke="#222" stroke-width="0.9"/>
<line x1="428.93" y1="450.50" x2="428.93" y2="453.50" stroke="#222" stroke-width="0.9"/>
<line x1="432.94" y1="450.50" x2="432.94" y2="453.50" stroke="#222" stroke-width="0.9"/>
<line x1="436.40" y1="450.50" x2="436.40" y2="453.50" stroke="#222" stroke-width="0.9"/>
<line x1="439.46" y1="450.50" x2="439.46" y2="453.50" stroke="#222" stroke-width="0.9"/>
<line x1="442.20" y1="450.50" x2="442.20" y2="455.20" stroke="#222" stroke-width="1.1"/>
<text x="440.2" y="467.8" font-size="9.0" text-anchor="middle" font-weight="normal" fill="#1a1a1a" stroke="#1a1a1a" stroke-width="0.15" id="xt323_1">10</text>
<line x1="460.20" y1="450.50" x2="460.20" y2="453.50" stroke="#222" stroke-width="0.9"/>
<line x1="470.73" y1="450.50" x2="470.73" y2="453.50" stroke="#222" stroke-width="0.9"/>
<line x1="478.20" y1="450.50" x2="478.20" y2="453.50" stroke="#222" stroke-width="0.9"/>
<line x1="484.00" y1="450.50" x2="484.00" y2="453.50" stroke="#222" stroke-width="0.9"/>
<line x1="488.73" y1="450.50" x2="488.73" y2="453.50" stroke="#222" stroke-width="0.9"/>
<line x1="492.74" y1="450.50" x2="492.74" y2="453.50" stroke="#222" stroke-width="0.9"/>
<line x1="496.20" y1="450.50" x2="496.20" y2="453.50" stroke="#222" stroke-width="0.9"/>
<line x1="499.26" y1="450.50" x2="499.26" y2="453.50" stroke="#222" stroke-width="0.9"/>
<line x1="502.00" y1="450.50" x2="502.00" y2="455.20" stroke="#222" stroke-width="1.1"/>
<text x="498.2" y="467.8" font-size="9.0" text-anchor="middle" font-weight="normal" fill="#1a1a1a" stroke="#1a1a1a" stroke-width="0.15" id="xt323_2">100</text>
<circle cx="343.3" cy="363.3" r="2.5" fill="#b3121f" stroke="#2a0006" stroke-width="1.1"/>
<circle cx="343.3" cy="373.9" r="2.5" fill="#b3121f" stroke="#2a0006" stroke-width="1.1"/>
<circle cx="343.3" cy="384.6" r="2.5" fill="#b3121f" stroke="#2a0006" stroke-width="1.1"/>
<circle cx="343.3" cy="387.20000000000005" r="2.5" fill="#b3121f" stroke="#2a0006" stroke-width="1.1"/>
<circle cx="343.3" cy="389.8" r="2.5" fill="#b3121f" stroke="#2a0006" stroke-width="1.1"/>
<circle cx="343.3" cy="392.40000000000003" r="2.5" fill="#b3121f" stroke="#2a0006" stroke-width="1.1"/>
<circle cx="343.3" cy="395.0" r="2.5" fill="#b3121f" stroke="#2a0006" stroke-width="1.1"/>
<circle cx="343.3" cy="397.6" r="2.5" fill="#b3121f" stroke="#2a0006" stroke-width="1.1"/>
<circle cx="343.3" cy="400.20000000000005" r="2.5" fill="#b3121f" stroke="#2a0006" stroke-width="1.1"/>
<circle cx="415.1" cy="365" r="2.5" fill="#b3121f" stroke="#2a0006" stroke-width="1.1"/>
<circle cx="401.7" cy="378.3" r="2.5" fill="#b3121f" stroke="#2a0006" stroke-width="1.1"/>
<circle cx="407.5" cy="378.3" r="2.5" fill="#b3121f" stroke="#2a0006" stroke-width="1.1"/>
<circle cx="408.7" cy="376.3" r="2.5" fill="#b3121f" stroke="#2a0006" stroke-width="1.1"/>
<circle cx="420.4" cy="377.6" r="2.5" fill="#b3121f" stroke="#2a0006" stroke-width="1.1"/>
<circle cx="423.6" cy="375.7" r="2.5" fill="#b3121f" stroke="#2a0006" stroke-width="1.1"/>
<circle cx="422.3" cy="383.4" r="2.5" fill="#b3121f" stroke="#2a0006" stroke-width="1.1"/>
<circle cx="401.7" cy="390.1" r="2.5" fill="#b3121f" stroke="#2a0006" stroke-width="1.1"/>
<circle cx="413.3" cy="390.8" r="2.5" fill="#b3121f" stroke="#2a0006" stroke-width="1.1"/>
<circle cx="404.1" cy="401.5" r="2.5" fill="#b3121f" stroke="#2a0006" stroke-width="1.1"/>
<circle cx="413.3" cy="399.9" r="2.5" fill="#b3121f" stroke="#2a0006" stroke-width="1.1"/>
<circle cx="416.3" cy="400.9" r="2.5" fill="#b3121f" stroke="#2a0006" stroke-width="1.1"/>
<circle cx="423.8" cy="395.6" r="2.5" fill="#b3121f" stroke="#2a0006" stroke-width="1.1"/>
<circle cx="426.7" cy="398.5" r="2.5" fill="#b3121f" stroke="#2a0006" stroke-width="1.1"/>
<circle cx="425.3" cy="401.3" r="2.5" fill="#b3121f" stroke="#2a0006" stroke-width="1.1"/>
<circle cx="435.4" cy="394.1" r="2.5" fill="#b3121f" stroke="#2a0006" stroke-width="1.1"/>
<circle cx="439.7" cy="395.8" r="2.5" fill="#b3121f" stroke="#2a0006" stroke-width="1.1"/>
<circle cx="426.7" cy="388.7" r="2.5" fill="#b3121f" stroke="#2a0006" stroke-width="1.1"/>
<circle cx="440.2" cy="386" r="2.5" fill="#b3121f" stroke="#2a0006" stroke-width="1.1"/>
<circle cx="430.6" cy="341" r="2.5" fill="#b3121f" stroke="#2a0006" stroke-width="1.1"/>
<circle cx="437.1" cy="348.3" r="2.5" fill="#b3121f" stroke="#2a0006" stroke-width="1.1"/>
<circle cx="440.4" cy="348.3" r="2.5" fill="#b3121f" stroke="#2a0006" stroke-width="1.1"/>
<circle cx="423.9" cy="365.7" r="2.5" fill="#b3121f" stroke="#2a0006" stroke-width="1.1"/>
<circle cx="427.2" cy="361.4" r="2.5" fill="#b3121f" stroke="#2a0006" stroke-width="1.1"/>
<circle cx="432.6" cy="364.7" r="2.5" fill="#b3121f" stroke="#2a0006" stroke-width="1.1"/>
<circle cx="439.5" cy="368.5" r="2.5" fill="#b3121f" stroke="#2a0006" stroke-width="1.1"/>
<circle cx="437" cy="371.7" r="2.5" fill="#b3121f" stroke="#2a0006" stroke-width="1.1"/>
<circle cx="438.2" cy="376.6" r="2.5" fill="#b3121f" stroke="#2a0006" stroke-width="1.1"/>
<circle cx="446.3" cy="368.1" r="2.5" fill="#b3121f" stroke="#2a0006" stroke-width="1.1"/>
<circle cx="448" cy="362.4" r="2.5" fill="#b3121f" stroke="#2a0006" stroke-width="1.1"/>
<circle cx="452.2" cy="365.7" r="2.5" fill="#b3121f" stroke="#2a0006" stroke-width="1.1"/>
<circle cx="420.6" cy="377.5" r="2.5" fill="#b3121f" stroke="#2a0006" stroke-width="1.1"/>
<circle cx="428.3" cy="380.7" r="2.5" fill="#b3121f" stroke="#2a0006" stroke-width="1.1"/>
<circle cx="427.2" cy="384.8" r="2.5" fill="#b3121f" stroke="#2a0006" stroke-width="1.1"/>
<circle cx="446.3" cy="379.9" r="2.5" fill="#b3121f" stroke="#2a0006" stroke-width="1.1"/>
<circle cx="440.3" cy="385.6" r="2.5" fill="#b3121f" stroke="#2a0006" stroke-width="1.1"/>
<circle cx="442.7" cy="384" r="2.5" fill="#b3121f" stroke="#2a0006" stroke-width="1.1"/>
<circle cx="448" cy="387.3" r="2.5" fill="#b3121f" stroke="#2a0006" stroke-width="1.1"/>
<circle cx="450.1" cy="390.2" r="2.5" fill="#b3121f" stroke="#2a0006" stroke-width="1.1"/>
<circle cx="455" cy="388.9" r="2.5" fill="#b3121f" stroke="#2a0006" stroke-width="1.1"/>
<circle cx="457.8" cy="387.6" r="2.5" fill="#b3121f" stroke="#2a0006" stroke-width="1.1"/>
<circle cx="456.6" cy="392.5" r="2.5" fill="#b3121f" stroke="#2a0006" stroke-width="1.1"/>
<circle cx="452.2" cy="399.1" r="2.5" fill="#b3121f" stroke="#2a0006" stroke-width="1.1"/>
<circle cx="496.1" cy="293.9" r="2.5" fill="#b3121f" stroke="#2a0006" stroke-width="1.1"/>
<circle cx="496.1" cy="307.5" r="2.5" fill="#b3121f" stroke="#2a0006" stroke-width="1.1"/>
<circle cx="496.1" cy="314.3" r="2.5" fill="#b3121f" stroke="#2a0006" stroke-width="1.1"/>
<circle cx="496.1" cy="320.3" r="2.5" fill="#b3121f" stroke="#2a0006" stroke-width="1.1"/>
<circle cx="496.1" cy="327.2" r="2.5" fill="#b3121f" stroke="#2a0006" stroke-width="1.1"/>
<circle cx="496.1" cy="333.6" r="2.5" fill="#b3121f" stroke="#2a0006" stroke-width="1.1"/>
<circle cx="478.6" cy="332.6" r="2.5" fill="#b3121f" stroke="#2a0006" stroke-width="1.1"/>
<circle cx="483.2" cy="340.1" r="2.5" fill="#b3121f" stroke="#2a0006" stroke-width="1.1"/>
<circle cx="491.9" cy="345.5" r="2.5" fill="#b3121f" stroke="#2a0006" stroke-width="1.1"/>
<circle cx="496.1" cy="343" r="2.5" fill="#b3121f" stroke="#2a0006" stroke-width="1.1"/>
<circle cx="482.6" cy="340.4" r="2.5" fill="#b3121f" stroke="#2a0006" stroke-width="1.1"/>
<circle cx="468" cy="347.6" r="2.5" fill="#b3121f" stroke="#2a0006" stroke-width="1.1"/>
<circle cx="491.8" cy="346" r="2.5" fill="#b3121f" stroke="#2a0006" stroke-width="1.1"/>
<circle cx="496.1" cy="343.4" r="2.5" fill="#b3121f" stroke="#2a0006" stroke-width="1.1"/>
<circle cx="495.6" cy="348" r="2.5" fill="#b3121f" stroke="#2a0006" stroke-width="1.1"/>
<circle cx="495.6" cy="353.1" r="2.5" fill="#b3121f" stroke="#2a0006" stroke-width="1.1"/>
<circle cx="485.4" cy="354.6" r="2.5" fill="#b3121f" stroke="#2a0006" stroke-width="1.1"/>
<circle cx="472.6" cy="360.8" r="2.5" fill="#b3121f" stroke="#2a0006" stroke-width="1.1"/>
<circle cx="474.2" cy="364.9" r="2.5" fill="#b3121f" stroke="#2a0006" stroke-width="1.1"/>
<circle cx="473.4" cy="366.9" r="2.5" fill="#b3121f" stroke="#2a0006" stroke-width="1.1"/>
<circle cx="480.3" cy="361.1" r="2.5" fill="#b3121f" stroke="#2a0006" stroke-width="1.1"/>
<circle cx="499.8" cy="365.7" r="2.5" fill="#b3121f" stroke="#2a0006" stroke-width="1.1"/>
<circle cx="495.2" cy="370.6" r="2.5" fill="#b3121f" stroke="#2a0006" stroke-width="1.1"/>
<circle cx="495.6" cy="374.6" r="2.5" fill="#b3121f" stroke="#2a0006" stroke-width="1.1"/>
<circle cx="482.6" cy="372.1" r="2.5" fill="#b3121f" stroke="#2a0006" stroke-width="1.1"/>
<circle cx="487.2" cy="376.7" r="2.5" fill="#b3121f" stroke="#2a0006" stroke-width="1.1"/>
<circle cx="496.1" cy="382.5" r="2.5" fill="#b3121f" stroke="#2a0006" stroke-width="1.1"/>
<circle cx="460.8" cy="372.6" r="2.5" fill="#b3121f" stroke="#2a0006" stroke-width="1.1"/>
<circle cx="467.6" cy="374.6" r="2.5" fill="#b3121f" stroke="#2a0006" stroke-width="1.1"/>
<circle cx="469.6" cy="378.7" r="2.5" fill="#b3121f" stroke="#2a0006" stroke-width="1.1"/>
<circle cx="457.8" cy="387.1" r="2.5" fill="#b3121f" stroke="#2a0006" stroke-width="1.1"/>
<circle cx="456.5" cy="390.2" r="2.5" fill="#b3121f" stroke="#2a0006" stroke-width="1.1"/>
<circle cx="465.4" cy="392.5" r="2.5" fill="#b3121f" stroke="#2a0006" stroke-width="1.1"/>
<circle cx="469.6" cy="392.5" r="2.5" fill="#b3121f" stroke="#2a0006" stroke-width="1.1"/>
<circle cx="461.9" cy="397.1" r="2.5" fill="#b3121f" stroke="#2a0006" stroke-width="1.1"/>
<circle cx="469.6" cy="397.1" r="2.5" fill="#b3121f" stroke="#2a0006" stroke-width="1.1"/>
<circle cx="466" cy="401.7" r="2.5" fill="#b3121f" stroke="#2a0006" stroke-width="1.1"/>
<circle cx="460.4" cy="403.2" r="2.5" fill="#b3121f" stroke="#2a0006" stroke-width="1.1"/>
<circle cx="452.3" cy="400" r="2.5" fill="#b3121f" stroke="#2a0006" stroke-width="1.1"/>
<circle cx="460" cy="403.4" r="2.5" fill="#b3121f" stroke="#2a0006" stroke-width="1.1"/>
<circle cx="466.2" cy="401.8" r="2.5" fill="#b3121f" stroke="#2a0006" stroke-width="1.1"/>
<circle cx="343.3" cy="406.8" r="2.55" fill="#000" stroke="#000" stroke-width="1.1"/>
<circle cx="343.3" cy="413.2" r="2.55" fill="#000" stroke="#000" stroke-width="1.1"/>
<circle cx="343.3" cy="423.3" r="2.55" fill="#000" stroke="#000" stroke-width="1.1"/>
<circle cx="343.3" cy="450.4" r="2.55" fill="#000" stroke="#000" stroke-width="1.1"/>
<circle cx="412.0" cy="410.5" r="2.55" fill="#000" stroke="#000" stroke-width="1.1"/>
<circle cx="418.6" cy="410.5" r="2.55" fill="#000" stroke="#000" stroke-width="1.1"/>
<circle cx="421.4" cy="414.8" r="2.55" fill="#000" stroke="#000" stroke-width="1.1"/>
<circle cx="424.3" cy="407.6" r="2.55" fill="#000" stroke="#000" stroke-width="1.1"/>
<circle cx="443.4" cy="410.5" r="2.55" fill="#000" stroke="#000" stroke-width="1.1"/>
<circle cx="447.4" cy="410.5" r="2.55" fill="#000" stroke="#000" stroke-width="1.1"/>
<circle cx="473.5" cy="407.4" r="2.55" fill="#000" stroke="#000" stroke-width="1.1"/>
<circle cx="458.2" cy="416.2" r="2.55" fill="#000" stroke="#000" stroke-width="1.1"/>
<circle cx="453.8" cy="420.3" r="2.55" fill="#000" stroke="#000" stroke-width="1.1"/>
<circle cx="471.5" cy="428.9" r="2.55" fill="#000" stroke="#000" stroke-width="1.1"/>
<circle cx="462.3" cy="433.5" r="2.55" fill="#000" stroke="#000" stroke-width="1.1"/>
<circle cx="489.2" cy="439.7" r="2.55" fill="#000" stroke="#000" stroke-width="1.1"/>
<circle cx="453.3" cy="450.5" r="2.55" fill="#000" stroke="#000" stroke-width="1.1"/>
<line x1="458.00" y1="274.00" x2="458.00" y2="450.50" stroke="#333" stroke-width="1.3" stroke-dasharray="3.4 4"/>
<line x1="323.00" y1="405.60" x2="499.50" y2="405.60" stroke="#333" stroke-width="1.3" stroke-dasharray="3.4 4"/>
<text x="368.5" y="283.8" font-size="11.5" text-anchor="start" font-weight="normal" fill="#222" textLength="24" lengthAdjust="spacing" id="p5">50%</text>
<text x="484.6" y="283.8" font-size="11.5" text-anchor="start" font-weight="normal" fill="#222" textLength="35" lengthAdjust="spacing" id="p6">33.3%</text>
<text x="362.2" y="425.4" font-size="11.5" text-anchor="start" font-weight="normal" fill="#222" textLength="35.4" lengthAdjust="spacing" id="p7">13.3%</text>
<text x="488.5" y="425.4" font-size="11.5" text-anchor="start" font-weight="normal" fill="#222" textLength="27.5" lengthAdjust="spacing" id="p8">3.3%</text>
<text x="285" y="452" font-size="16.7" text-anchor="start" font-weight="normal" fill="#1a1a1a" textLength="188.5" lengthAdjust="spacingAndGlyphs" transform="rotate(-90 285 452)" id="yD">Anti-β2GPI/HLA-DR7 Ab</text>
<text x="402.1" y="483.8" font-size="16.8" text-anchor="start" font-weight="normal" fill="#1a1a1a" textLength="32" lengthAdjust="spacingAndGlyphs" id="xD">aCL</text>
</svg></body></html>
